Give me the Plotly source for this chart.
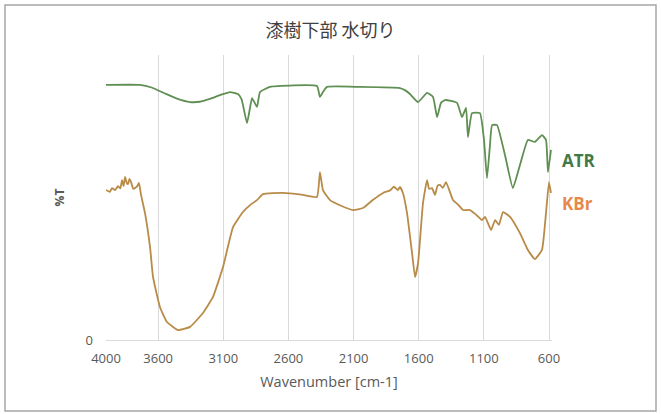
import plotly.graph_objects as go

# ATR spectrum (wavenumber, relative %T)
atr_wn = [4000, 3739, 3650, 3547, 3450, 3355, 3280, 3202, 3120, 3048, 2987, 2960, 2949, 2918, 2895,
          2879, 2841, 2818, 2741, 2381, 2358, 2335, 2304, 2051, 1744, 1700, 1667, 1605, 1536,
          1490, 1459, 1429, 1398, 1306, 1268, 1237, 1222, 1191, 1130, 1099, 1076, 1053, 1037,
          999, 938, 877, 823, 762, 708, 654, 623, 608, 585]
atr_val = [89.5, 89.5, 88.6, 86.5, 84.6, 83.5, 83.6, 84.6, 86.0, 87.0, 86.3, 84.5, 82.5, 76.1, 81.4,
           84.9, 81.8, 87.0, 88.8, 89.1, 85.3, 87.0, 88.8, 88.8, 88.4, 87.5, 86.3, 83.5, 86.7,
           85.3, 78.2, 83.2, 84.2, 83.2, 78.2, 81.4, 71.2, 79.6, 79.6, 70.2, 56.8, 68.4, 75.4,
           75.4, 64.9, 53.3, 61.4, 70.2, 69.5, 71.9, 70.2, 58.9, 66.7]

# KBr spectrum (wavenumber, relative %T)
kbr_wn = [4000, 3970, 3954, 3930, 3908, 3890, 3877, 3865, 3854, 3840, 3831, 3820, 3808, 3790,
          3777, 3760, 3747, 3731, 3701, 3662, 3639, 3586, 3532, 3447, 3355, 3256, 3179, 3102,
          3025, 2949, 2890, 2841, 2795, 2642, 2500, 2381, 2358, 2335, 2281, 2200, 2104, 2028,
          1950, 1874, 1820, 1790, 1760, 1744, 1721, 1690, 1651, 1628, 1605, 1567, 1536, 1520,
          1498, 1475, 1455, 1437, 1415, 1390, 1337, 1300, 1260, 1206, 1160, 1114, 1091, 1045,
          1014, 984, 953, 899, 823, 762, 708, 654, 623, 600, 585]
kbr_val = [52.6, 52.0, 53.3, 52.6, 54.0, 53.2, 56.1, 54.0, 57.2, 55.0, 54.7, 56.5, 55.4, 53.0,
           53.3, 54.0, 55.1, 50.9, 44.6, 32.6, 22.1, 11.6, 6.3, 3.5, 4.6, 9.5, 15.1, 25.6,
           39.6, 44.9, 47.5, 49.1, 51.2, 51.6, 51.0, 50.2, 58.9, 52.6, 49.1, 47.2, 45.6, 46.3,
           49.2, 51.6, 52.5, 53.8, 52.6, 53.7, 51.6, 44.6, 30.5, 22.1, 27.0, 48.1, 56.1, 53.0,
           53.3, 50.9, 54.2, 54.4, 53.4, 55.4, 49.1, 47.6, 45.6, 45.6, 44.0, 42.1, 43.2, 38.6,
           42.1, 40.4, 44.9, 43.2, 37.5, 31.6, 28.4, 31.6, 44.6, 55.4, 51.6]

x_ticks = [4000, 3600, 3100, 2600, 2100, 1600, 1100, 600]

fig = go.Figure()
fig.add_trace(go.Scatter(x=atr_wn, y=atr_val, mode="lines",
                         line=dict(color="#5f8f52", width=1.8, shape="spline", smoothing=0.4),
                         name="ATR"))
fig.add_trace(go.Scatter(x=kbr_wn, y=kbr_val, mode="lines",
                         line=dict(color="#b98b48", width=1.8, shape="spline", smoothing=0.4),
                         name="KBr"))

fig.update_layout(
    width=661, height=414,
    margin=dict(l=106, r=109, t=55, b=74),
    paper_bgcolor="white", plot_bgcolor="white",
    showlegend=False,
    font=dict(family="Open Sans, Noto Sans CJK JP", color="#595959"),
    title=dict(text="漆樹下部 水切り", x=0.5, xanchor="center", y=0.925, yanchor="middle",
               font=dict(family="Noto Sans CJK JP", size=18, color="#404040")),
    xaxis=dict(range=[4000, 577], tickvals=x_ticks, ticktext=[str(t) for t in x_ticks],
               showgrid=True, gridcolor="#d9d9d9", gridwidth=1, zeroline=False,
               showline=False, ticks="", ticklabelstandoff=9,
               tickfont=dict(size=13, color="#595959"),
               title=dict(text="Wavenumber [cm-1]", font=dict(size=14.5, color="#595959"), standoff=10)),
    yaxis=dict(range=[0, 100], tickvals=[0], ticktext=["0"], showgrid=False,
               zeroline=True, zerolinecolor="#d9d9d9", zerolinewidth=1, showline=False, ticks="",
               ticklabelstandoff=12,
               tickfont=dict(size=13, color="#595959"),
               title=dict(text="<b>%T</b>", font=dict(size=12, color="#595959"), standoff=18)),
    annotations=[
        dict(text="<b>ATR</b>", xref="paper", yref="paper", x=1.018, y=(340-160)/285,
             xanchor="left", yanchor="middle", showarrow=False,
             font=dict(size=17, color="#3f7a48")),
        dict(text="<b>KBr</b>", xref="paper", yref="paper", x=1.018, y=(340-203)/285,
             xanchor="left", yanchor="middle", showarrow=False,
             font=dict(size=17, color="#e8894c")),
    ],
    shapes=[
        dict(type="rect", xref="paper", yref="paper",
             x0=(5-106)/446, x1=(656-106)/446, y0=(340-411)/285, y1=(340-5)/285,
             line=dict(color="#a6a6a6", width=1.5), fillcolor="rgba(0,0,0,0)", layer="below"),
    ],
)

fig.write_html("out.html", config={"displayModeBar": False},
               post_script="document.body.style.margin='0';")
